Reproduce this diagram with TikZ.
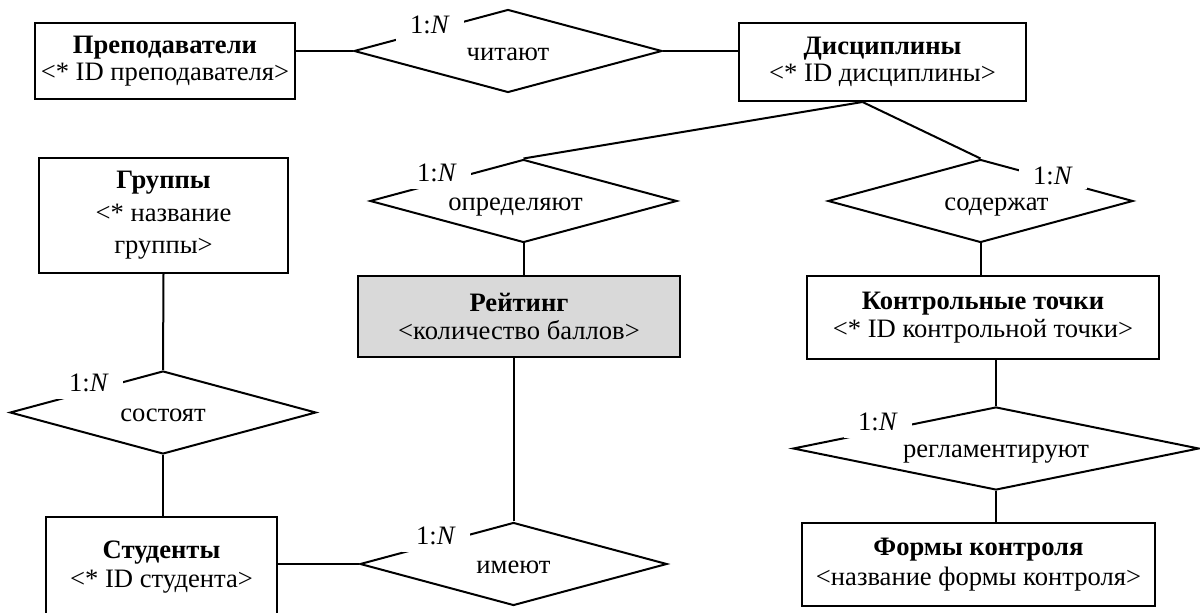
\documentclass[tikz,border=0pt]{standalone}
\usepackage{fontspec}
\setmainfont{Liberation Serif}
\usetikzlibrary{shapes.geometric}

\begin{document}
\begin{tikzpicture}[x=0.5pt, y=-0.5pt, line width=1pt,
  ent/.style={draw, align=center, inner sep=0pt},
  rel/.style={draw, diamond, aspect=3.7, inner sep=0pt, minimum height=41.5pt, text height=1.5ex, text depth=0pt},
  mult/.style={fill=white, inner xsep=7pt, inner ysep=3.5pt}]

  \fontsize{13.3pt}{13.8pt}\selectfont

  \useasboundingbox (0,0) rectangle (1200,613);
  \clip (0,0) rectangle (1200,613);

  \node[ent, minimum width=130pt, minimum height=38pt] (prep) at (165,61) {\textbf{Преподаватели}\\<* ID преподавателя>};
  \node[ent, minimum width=143.5pt, minimum height=39pt] (disc) at (882.5,62) {\textbf{Дисциплины}\\<* ID дисциплины>};
  \node[ent, minimum width=124.5pt, minimum height=57.5pt] (grp) at (163.5,215.5) {\textbf{Группы}\\[2.5pt]<* название\\[2.5pt]группы>};
  \node[ent, fill=black!15, minimum width=161pt, minimum height=40.5pt] (rate) at (519,316.5) {\textbf{Рейтинг}\\<количество баллов>};
  \node[ent, minimum width=176pt, minimum height=41.5pt] (kt) at (983,317.5) {\textbf{Контрольные точки}\\<* ID контрольной точки>};
  \node[ent, minimum width=115.5pt, minimum height=50pt] (stud) at (161.5,567) {\textbf{Студенты}\\[1pt]<* ID студента>};
  \node[ent, minimum width=176.5pt, minimum height=41.5pt] (forms) at (978.5,564.5) {\textbf{Формы контроля}\\[1pt]<название формы контроля>};

  \node[rel, minimum width=154pt] (rd) at (508,51) {читают};
  \node[rel, minimum width=153.5pt] (ro) at (523.5,201) {определяют\hspace*{8pt}};
  \node[rel, minimum width=152.5pt] (rs) at (980.5,201) {\hspace*{16pt}содержат};
  \node[rel, minimum width=153pt] (rc) at (163,412.5) {состоят};
  \node[rel, minimum width=203pt] (rr) at (996,448.5) {регламентируют};
  \node[rel, minimum width=153.5pt] (ri) at (513.5,564) {имеют};

  \draw (prep.east |- rd.west) -- (rd.west); %% prep->rd
  \draw (rd.east) -- (rd.east -| disc.west); %% rd->disc
  \draw ([xshift=-10pt]disc.south) -- (ro.north); %% disc->ro
  \draw ([xshift=-10pt]disc.south) -- (rs.north); %% disc->rs
  \draw (ro.south) -- (ro.south |- rate.north);
  \draw (rs.south) -- (rs.south |- kt.north);
  \draw (rr.north) -- (rr.north |- kt.south);
  \draw (rr.south) -- (rr.south |- forms.north);
  \draw (grp.south) -- (rc.north); %% grp->rc
  \draw (rc.south) -- (rc.south |- stud.north);
  \draw (ri.west) -- (ri.west -| stud.east); %% ri->stud
  \draw (ri.north) -- (ri.north |- rate.south); %% ri->rate

  \node[mult] (m1) at (430,25) {1:\textit{N}};
  \node[mult] (m2) at (437,173) {1:\textit{N}};
  \node[mult, inner ysep=2pt] (m3) at (1053,176) {1:\textit{N}};
  \node[mult] (m4) at (89,383) {1:\textit{N}};
  \node[mult] (m5) at (878,422) {1:\textit{N}};
  \node[mult] (m6) at (436,536) {1:\textit{N}};
\end{tikzpicture}
\end{document}
